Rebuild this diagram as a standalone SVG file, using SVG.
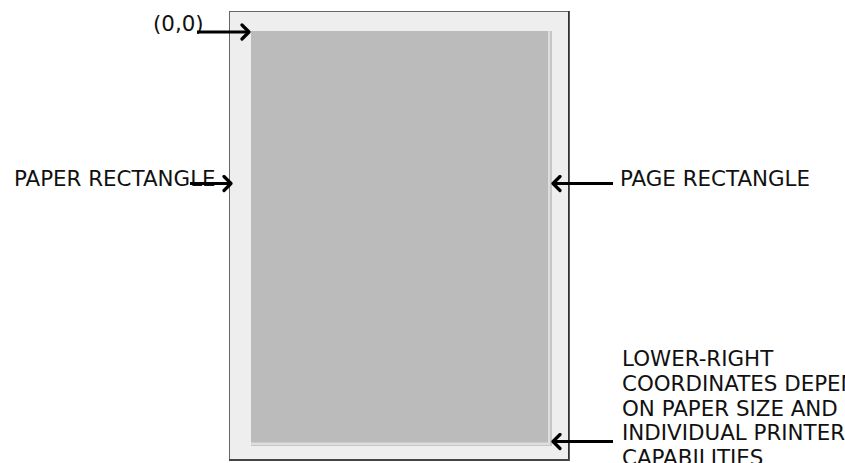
<svg xmlns="http://www.w3.org/2000/svg" width="845" height="463" viewBox="0 0 845 463">
<defs>
<style>
.lbl{font-family:"DejaVu Sans",sans-serif;font-size:21.4px;fill:#111}
.arr{stroke:#000;stroke-width:3;fill:none}
.head{stroke:#000;stroke-width:3.2;fill:none;stroke-linecap:round;stroke-linejoin:round}
</style>
<marker id="ah" markerWidth="14" markerHeight="18" refX="11" refY="9" orient="auto" markerUnits="userSpaceOnUse">
<path d="M4,2 L11,9 L4,16" class="head"/>
</marker>
</defs>
<rect width="845" height="463" fill="#fff"/>
<g id="paper">
<rect x="229.5" y="11.5" width="339" height="448" fill="#eeeeee" stroke="#666" stroke-width="1"/>
<line x1="569" y1="11" x2="569" y2="461" stroke="#222" stroke-width="1.5"/>
<line x1="229" y1="460" x2="569" y2="460" stroke="#444" stroke-width="2"/>
</g>
<g id="page">
<rect x="549" y="31" width="3" height="415" fill="#c6c6c6"/>
<rect x="251" y="443" width="301" height="3" fill="#c6c6c6"/>
<rect x="251" y="31" width="299" height="414" fill="#dedede"/>
<rect x="251" y="31" width="297" height="411.5" fill="#bbbbbb"/>
</g>
<g id="labels">
<text class="lbl" x="153" y="31">(0,0)</text>
<text class="lbl" x="14" y="186">PAPER RECTANGLE</text>
<text class="lbl" x="620" y="186">PAGE RECTANGLE</text>
<text class="lbl" x="622" y="366">LOWER-RIGHT</text>
<text class="lbl" x="622" y="391">COORDINATES DEPEND</text>
<text class="lbl" x="622" y="415.5">ON PAPER SIZE AND</text>
<text class="lbl" x="622" y="440">INDIVIDUAL PRINTER</text>
<text class="lbl" x="622" y="465">CAPABILITIES</text>
</g>
<g id="connectors">
<line class="arr" x1="197" y1="32" x2="249" y2="32" marker-end="url(#ah)"/>
<line class="arr" x1="190" y1="183.5" x2="231" y2="183.5" marker-end="url(#ah)"/>
<line class="arr" x1="613" y1="183.5" x2="553" y2="183.5" marker-end="url(#ah)"/>
<line class="arr" x1="613" y1="441.5" x2="553" y2="441.5" marker-end="url(#ah)"/>
</g>
</svg>
